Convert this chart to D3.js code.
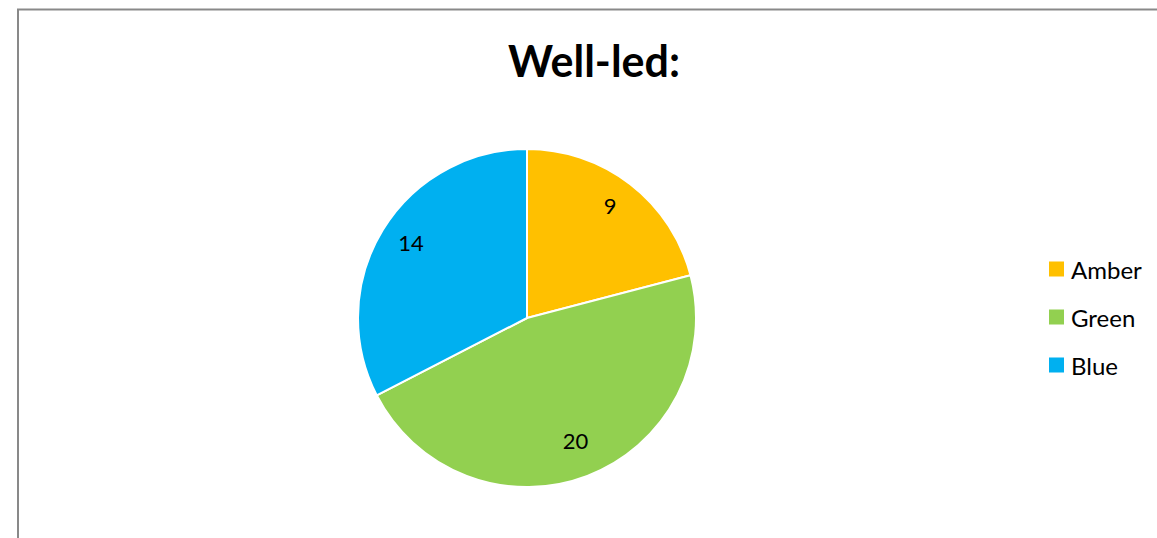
<!DOCTYPE html>
<html>
<head>
<meta charset="utf-8">
<script src="https://cdn.jsdelivr.net/npm/d3@7"></script>
<style>
  html, body { margin: 0; padding: 0; background: #fff; }
  svg { display: block; }
  text { font-family: Lato, "Open Sans", "Noto Sans", sans-serif; }
</style>
</head>
<body>
<svg id="chart" width="1157" height="538"></svg>
<script>
// Chart data
const title = "Well-led:";
const categories = ["Amber", "Green", "Blue"];
const values = [9, 20, 14];
const colors = ["#FFC000", "#92D050", "#00B0F0"];

const W = 1157, H = 538;
const svg = d3.select("#chart");

// Frame lines (top and left edges of the chart area)
svg.append("line").attr("x1", 17).attr("x2", W).attr("y1", 9.5).attr("y2", 9.5)
  .attr("stroke", "#898989").attr("stroke-width", 2);
svg.append("line").attr("x1", 18).attr("x2", 18).attr("y1", 9).attr("y2", H)
  .attr("stroke", "#898989").attr("stroke-width", 2);

// Title
svg.append("text")
  .attr("x", 594).attr("y", 77)
  .attr("text-anchor", "middle")
  .attr("font-size", 43).attr("font-weight", "bold")
  .attr("fill", "#000")
  .text(title);

// Pie
const cx = 527, cy = 318, r = 169;
const data = categories.map((c, i) => ({ name: c, value: values[i], color: colors[i] }));
const pie = d3.pie().value(d => d.value).sort(null);
const arc = d3.arc().innerRadius(0).outerRadius(r);
const labelArc = d3.arc().innerRadius(136).outerRadius(136);
const g = svg.append("g").attr("transform", `translate(${cx},${cy})`);
const arcs = pie(data);

g.selectAll("path.slice").data(arcs).join("path")
  .attr("class", "slice")
  .attr("d", arc)
  .attr("fill", d => d.data.color)
  .attr("stroke", "#fff").attr("stroke-width", 2)
  .attr("stroke-linejoin", "round");

g.selectAll("text.lbl").data(arcs).join("text")
  .attr("class", "lbl")
  .attr("transform", d => { const [x, y] = labelArc.centroid(d); return `translate(${x},${y - 5})`; })
  .attr("text-anchor", "middle")
  .attr("dominant-baseline", "central")
  .attr("font-size", 22)
  .attr("fill", "#000")
  .text(d => d.data.value);

// Legend
const legendScale = d3.scaleBand().domain(categories).range([245, 389]);
const lg = svg.append("g");
const items = lg.selectAll("g").data(data).join("g")
  .attr("transform", d => `translate(1049,${legendScale(d.name) + legendScale.bandwidth() / 2})`);
items.append("rect").attr("x", 0).attr("y", -7.5).attr("width", 15).attr("height", 15)
  .attr("fill", d => d.color);
items.append("text").attr("x", 22).attr("y", 0)
  .attr("dominant-baseline", "central")
  .attr("font-size", 24).attr("fill", "#000")
  .text(d => d.name);
</script>
</body>
</html>
